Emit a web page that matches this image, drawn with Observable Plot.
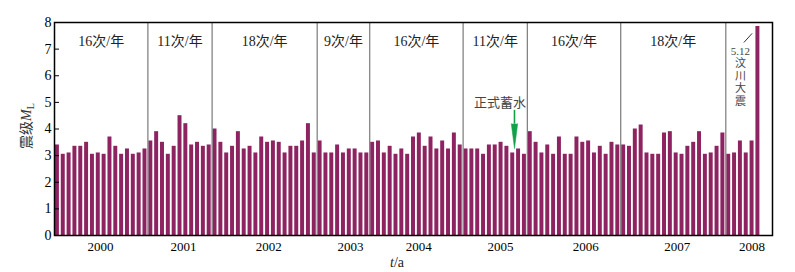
<!DOCTYPE html>
<html>
<head>
<meta charset="utf-8">
<script src="https://cdn.jsdelivr.net/npm/d3@7"></script>
<script src="https://cdn.jsdelivr.net/npm/@observablehq/plot@0.6"></script>
<style>
  html, body { margin: 0; padding: 0; background: #fff; }
  #chart { width: 795px; height: 272px; }
</style>
</head>
<body>
<div id="chart"></div>
<script>
// ---- data ----
const segCounts = [16, 11, 18, 9, 16, 11, 16, 18, 6];
const segLabels = ["16次/年", "11次/年", "18次/年", "9次/年", "16次/年", "11次/年", "16次/年", "18次/年", ""];
const magnitudes = [
  // 2000 segment (16)
  3.4, 3.05, 3.1, 3.35, 3.35, 3.5, 3.05, 3.1, 3.05, 3.7, 3.35, 3.05, 3.25, 3.05, 3.1, 3.25,
  // 11
  3.55, 3.9, 3.5, 3.05, 3.35, 4.5, 4.2, 3.4, 3.5, 3.35, 3.4,
  // 18
  4.0, 3.5, 3.1, 3.35, 3.9, 3.25, 3.35, 3.1, 3.7, 3.5, 3.55, 3.5, 3.1, 3.35, 3.35, 3.55, 4.2, 3.1,
  // 9
  3.55, 3.1, 3.1, 3.4, 3.1, 3.25, 3.25, 3.1, 3.1,
  // 16
  3.5, 3.55, 3.1, 3.35, 3.05, 3.25, 3.05, 3.7, 3.85, 3.35, 3.7, 3.25, 3.55, 3.25, 3.85, 3.4,
  // 11
  3.25, 3.25, 3.25, 3.05, 3.4, 3.4, 3.5, 3.35, 3.1, 3.25, 3.05,
  // 16
  3.9, 3.5, 3.1, 3.4, 3.05, 3.7, 3.05, 3.05, 3.7, 3.5, 3.55, 3.1, 3.35, 3.05, 3.5, 3.4,
  // 18
  3.4, 3.35, 4.0, 4.15, 3.1, 3.05, 3.05, 3.85, 3.9, 3.1, 3.05, 3.35, 3.5, 3.9, 3.05, 3.1, 3.35, 3.85,
  // 2008 (6)
  3.05, 3.1, 3.55, 3.1, 3.55, 7.85
];
const yearLabels = ["2000", "2001", "2002", "2003", "2004", "2005", "2006", "2007", "2008"];
const yearPos = [7.4, 21.6, 36.2, 50.2, 61.9, 75.9, 90.5, 106.2, 119.0]; // in event-index units
const yTicks = [0, 1, 2, 3, 4, 5, 6, 7, 8];
const quakeLines = ["5.12", "汶", "川", "大", "震"];

// ---- derived tables ----
const bars = magnitudes.map((m, i) => ({i, m}));
const starts = [];
segCounts.reduce((acc, c) => { starts.push(acc); return acc + c; }, 0);
const dividers = starts.slice(1).map(s => s - 0.5);
const segs = segCounts.map((c, k) => ({label: segLabels[k], center: starts[k] + (c - 1) / 2, y: 7.3}));

// annotation layout
const impound = {text: "正式蓄水", x: 75.8, y: 5.0, arrowX: 78.3, shaftTop: 4.72, headTop: 4.2};
const quake = {x: 117.0, y: 6.0, lx1: 117.6, ly1: 7.25, lx2: 119.0, ly2: 7.59, text: quakeLines.join("\n")};

const barColor = "#8d2461";
const fontFam = "'Liberation Serif', 'Noto Sans CJK SC', serif";

const chart = Plot.plot({
  width: 795,
  height: 272,
  marginLeft: 54,
  marginRight: 23,
  marginTop: 22,
  marginBottom: 37,
  style: {fontFamily: fontFam, fontSize: "13px", background: "white", color: "black", overflow: "visible"},
  x: {domain: [-0.5, 122.5], axis: null},
  y: {domain: [0, 8], axis: null},
  marks: [
    Plot.rectY(bars, {x1: d => d.i - 0.34, x2: d => d.i + 0.34, y1: 0, y2: "m", fill: barColor}),
    Plot.ruleX(dividers, {stroke: "#7a7a7a", strokeWidth: 1.2}),
    Plot.text(segs, {x: "center", y: "y", text: "label", fontSize: 14, fill: "#222"}),
    Plot.axisY({ticks: yTicks, tickSize: -5, tickPadding: 8, tickFormat: d => String(d), fontSize: 14, stroke: "black"}),
    Plot.axisX({ticks: yearPos, tickSize: 0, tickPadding: 6, tickFormat: d => yearLabels[yearPos.indexOf(d)], fontSize: 13}),
    Plot.frame({stroke: "black", strokeWidth: 1.5}),
    // impoundment annotation
    Plot.text([impound], {x: "x", y: "y", text: "text", fontSize: 13, fill: "#444", fontFamily: "'Noto Sans CJK SC', sans-serif"}),
    Plot.link([impound], {x1: "arrowX", x2: "arrowX", y1: "shaftTop", y2: "headTop", stroke: "#13a04a", strokeWidth: 1.6}),
    Plot.vector([impound], {x: "arrowX", y: "headTop", length: 25, rotate: 180, shape: "spike", r: 3.2, fill: "#13a04a", stroke: "#13a04a", strokeWidth: 0.5, anchor: "start"}),
    // Wenchuan annotation
    Plot.link([quake], {x1: "lx1", y1: "ly1", x2: "lx2", y2: "ly2", stroke: "#333", strokeWidth: 1}),
    Plot.text([quake], {x: "x", y: "y", text: "text", fontSize: 11, lineHeight: 1.13, fill: "#444"})
  ]
});

document.getElementById("chart").appendChild(chart);

// axis titles with mixed styling
const svg = d3.select(chart);
const yl = svg.append("text")
  .attr("transform", "translate(31,126) rotate(-90)")
  .attr("text-anchor", "middle")
  .attr("font-size", 14)
  .attr("fill", "#333")
  .attr("font-family", fontFam);
yl.append("tspan").text("震级");
yl.append("tspan").attr("font-style", "italic").text("M");
yl.append("tspan").attr("font-size", 10).attr("dy", 3).text("L");

const xl = svg.append("text")
  .attr("x", 397).attr("y", 267)
  .attr("text-anchor", "middle")
  .attr("font-size", 14)
  .attr("fill", "#222")
  .attr("font-family", fontFam);
xl.append("tspan").attr("font-style", "italic").text("t");
xl.append("tspan").text("/a");
</script>
</body>
</html>
